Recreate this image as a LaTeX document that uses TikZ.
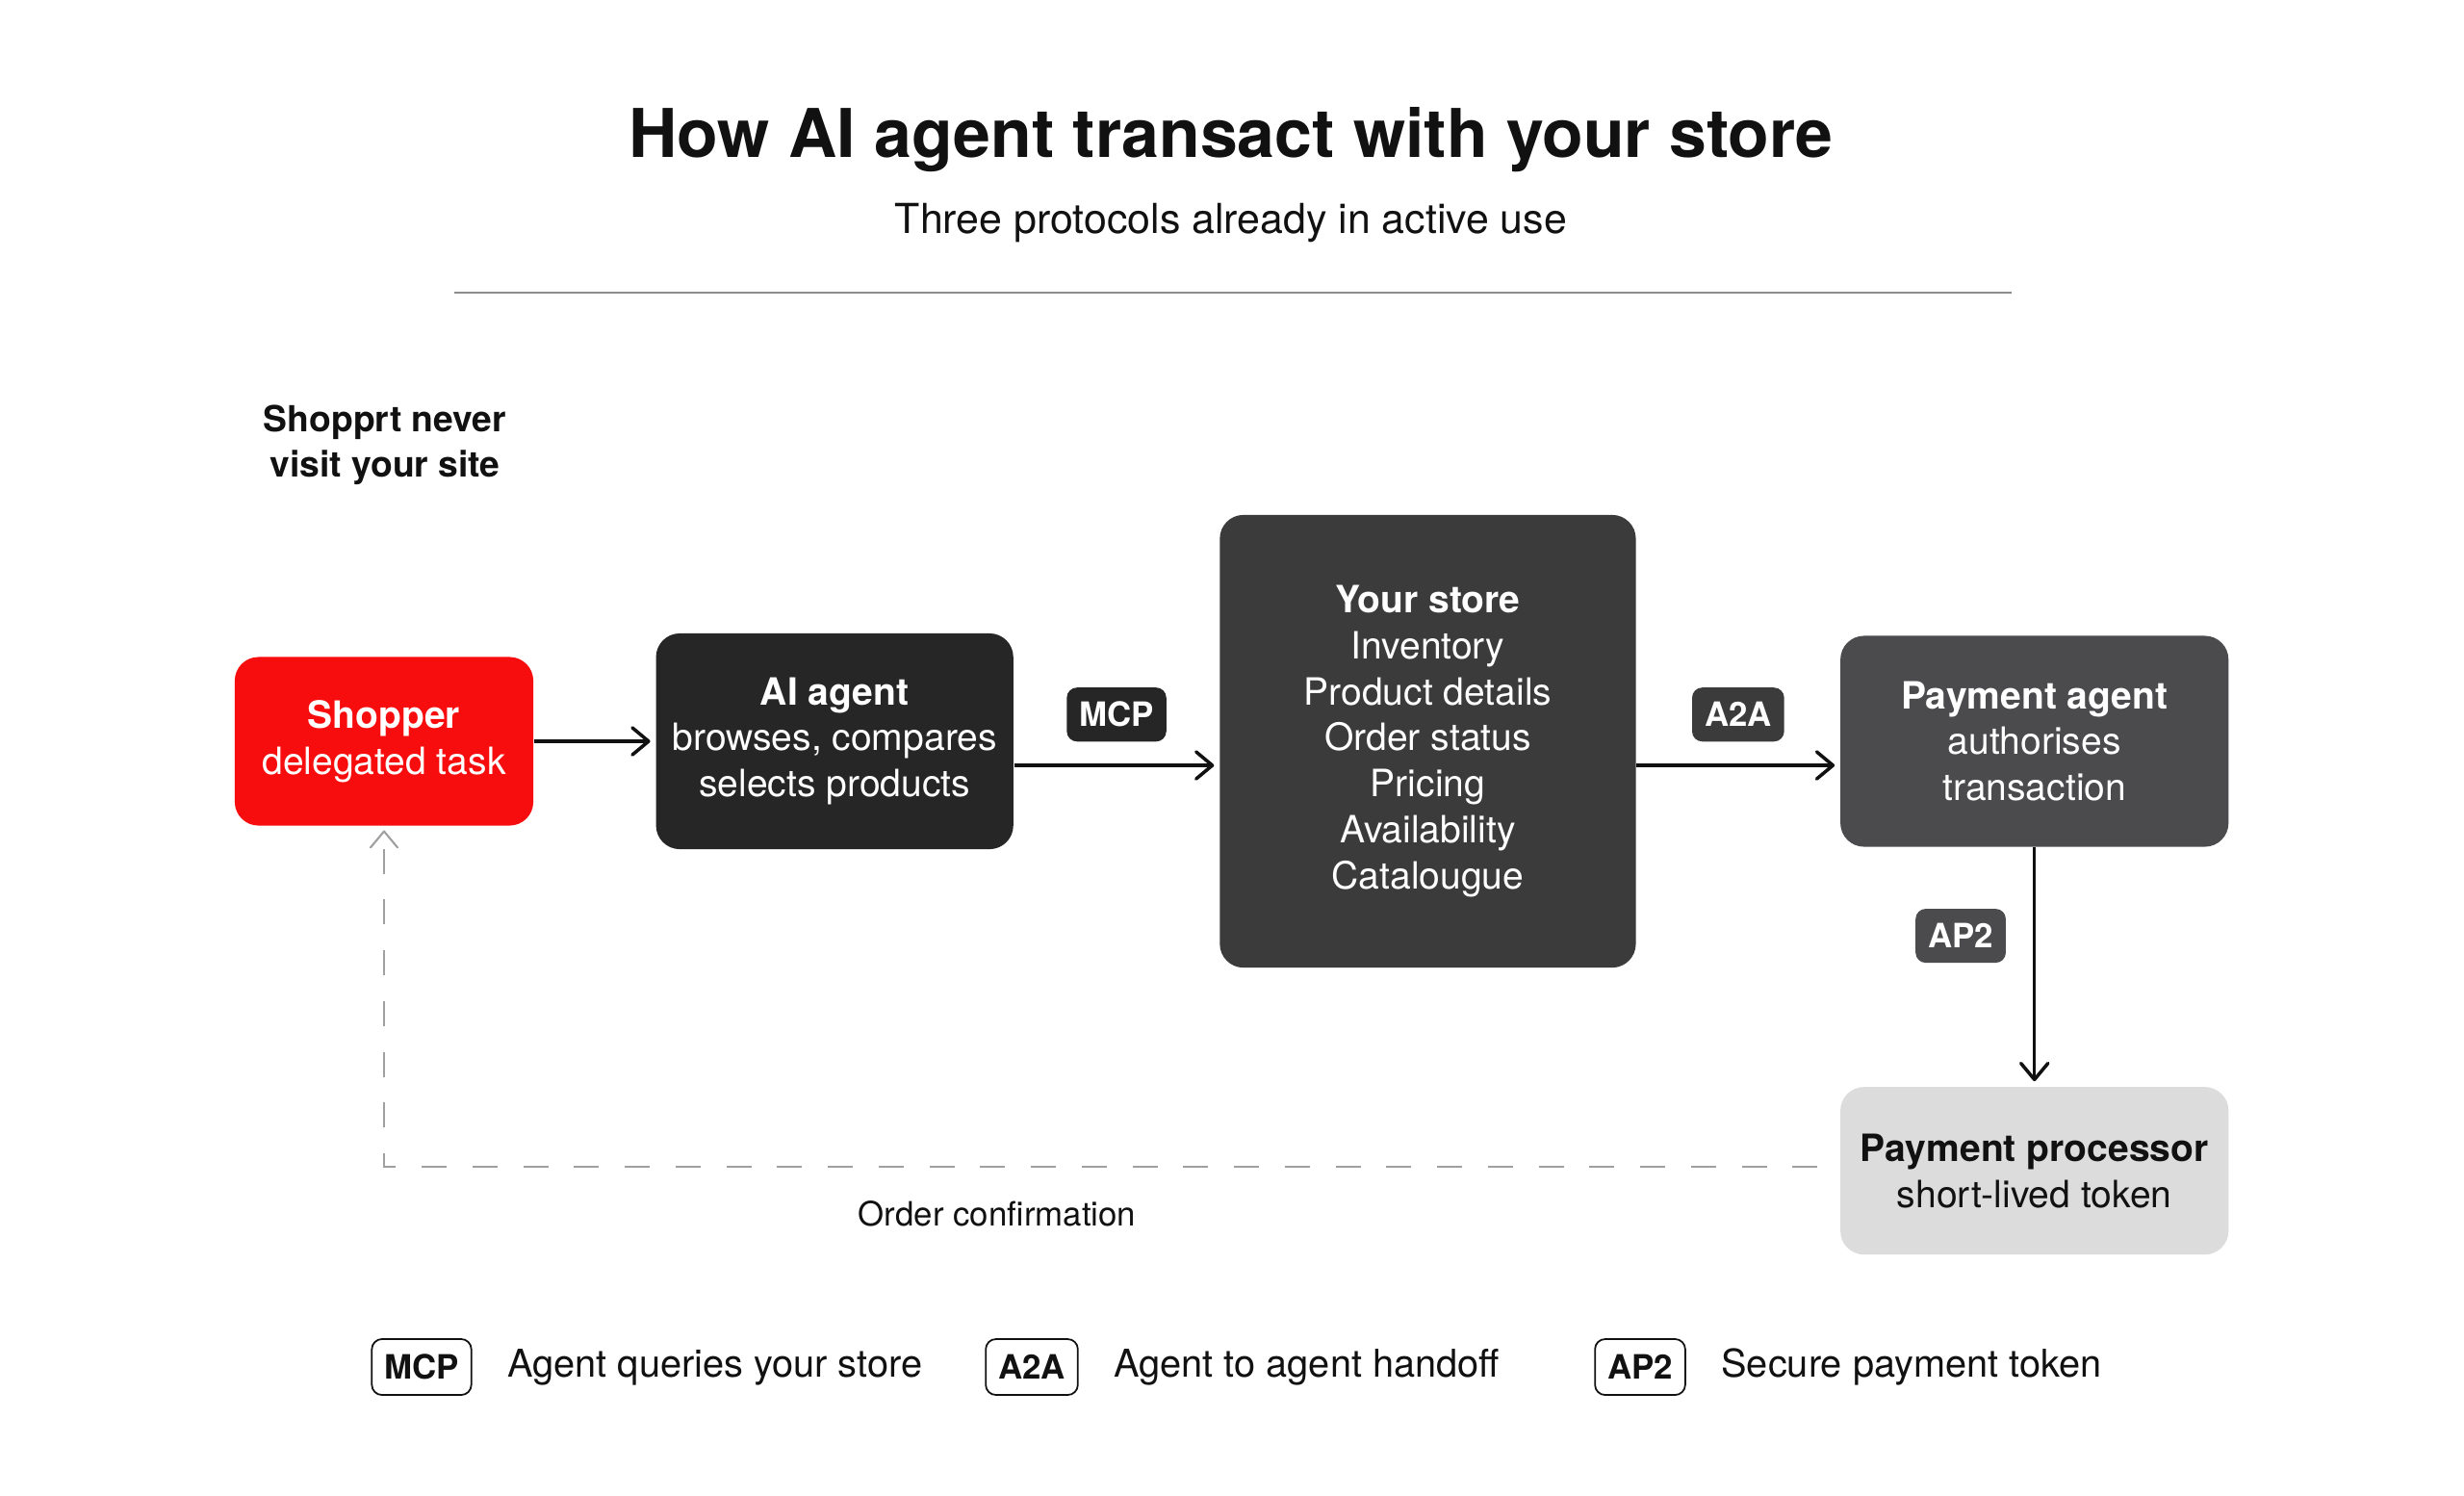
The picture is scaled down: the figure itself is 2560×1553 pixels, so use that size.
\documentclass[tikz,border=0pt]{standalone}
\usepackage{fontspec}
\setmainfont{TeX Gyre Heros}
\usetikzlibrary{positioning,arrows.meta}

\definecolor{shopred}{RGB}{248,13,14}
\definecolor{agentdark}{RGB}{38,38,38}
\definecolor{storegray}{RGB}{59,59,59}
\definecolor{paygray}{RGB}{75,75,77}
\definecolor{procgray}{RGB}{220,220,220}
\definecolor{inkblack}{RGB}{17,17,17}
\definecolor{dashgray}{RGB}{160,160,160}
\definecolor{rulegray}{RGB}{140,140,140}

\begin{document}
\begin{tikzpicture}[
  x=0.01cm, y=-0.01cm,
  every node/.style={text=inkblack},
  box/.style={rounded corners=7pt, align=center, inner sep=0pt, text=white,
    font=\fontsize{11.1pt}{13.6pt}\selectfont},
  tag/.style={rounded corners=3pt, inner xsep=3.7pt, inner ysep=0pt,
    minimum height=0.56cm, text=white, font=\fontsize{9.9pt}{11pt}\selectfont\bfseries},
  key/.style={tag, draw=inkblack, line width=0.5pt, fill=white, text=inkblack, minimum height=0.58cm},
  legend/.style={inner xsep=0pt, font=\fontsize{11.3pt}{14pt}\selectfont},
  flow/.style={draw=inkblack, line width=1pt, shorten >=1.5pt,
    -{Straight Barb[length=4.8pt,width=8pt,round]}},
  back/.style={draw=dashgray, line width=0.6pt, dash pattern=on 7.4pt off 7.6pt,
    shorten >=1.2pt, -{Straight Barb[length=4.8pt,width=8pt,round]}}
]
\path[use as bounding box, fill=white] (0,0) rectangle (2560,1553);

\node[font=\fontsize{19.85pt}{24pt}\selectfont\bfseries, anchor=base] (title) at (1279,163)
  {How AI agent transact with your store};
\node[font=\fontsize{12.2pt}{14pt}\selectfont, anchor=base] (subtitle) at (1279,242)
  {Three protocols already in active use};
\coordinate (ruleleft) at (472,304);
\coordinate (ruleright) at (2090,304);
\draw[rulegray, line width=0.6pt] (ruleleft) -- (ruleright);

\node[font=\fontsize{10.6pt}{13.3pt}\selectfont\bfseries, align=center] (never) at (400,462)
  {Shopprt never\\visit your site};

\node[box, fill=shopred, minimum width=3.10cm, minimum height=1.75cm] (shopper) at (399,770)
  {\textbf{Shopper}\\delegated task};
\node[box, fill=agentdark, minimum width=3.71cm, minimum height=2.24cm, right=1.26cm of shopper] (agent)
  {\textbf{AI agent}\\browses, compares\\selects products};
\node[box, fill=storegray, minimum width=4.32cm, minimum height=4.70cm, right=2.13cm of agent] (store)
  {\textbf{Your store}\\Inventory\\Product details\\Order status\\Pricing\\Availability\\Catalougue};
\node[box, fill=paygray, minimum width=4.03cm, minimum height=2.19cm, right=2.11cm of store] (payagent)
  {\textbf{Payment agent}\\authorises\\transaction};
\node[box, fill=procgray, text=inkblack, minimum width=4.03cm, minimum height=1.74cm, below=2.48cm of payagent] (processor)
  {\textbf{Payment processor}\\short-lived token};

\draw[flow] (shopper) -- (agent);
\draw[flow] ([yshift=-0.25cm]agent.east) -- ([yshift=-0.25cm]store.west)
  node[tag, fill=agentdark, midway, above=0.23cm] (mcp) {MCP};
\draw[flow] ([yshift=-0.25cm]store.east) -- ([yshift=-0.25cm]payagent.west)
  node[tag, fill=storegray, midway, above=0.23cm] (a2a) {A2A};
\draw[flow] (payagent) -- (processor)
  node[tag, fill=paygray, pos=0.37, left=0.28cm] (ap2) {AP2};

% return path back to the shopper
\coordinate (backstart) at ([xshift=-0.23cm,yshift=0.045cm]processor.west);
\draw[back] (backstart) -| (shopper.south);
\node[font=\fontsize{9.9pt}{12pt}\selectfont, anchor=base] (confirm) at (1036,1273) {Order confirmation};

\node[key] (keymcp) at (438,1420) {MCP};
\node[legend, right=0.36cm of keymcp] (txtmcp) {Agent queries your store};
\node[key] (keya2a) at (1072,1420) {A2A};
\node[legend, right=0.36cm of keya2a] (txta2a) {Agent to agent handoff};
\node[key] (keyap2) at (1704,1420) {AP2};
\node[legend, right=0.36cm of keyap2] (txtap2) {Secure payment token};

\end{tikzpicture}
\end{document}
